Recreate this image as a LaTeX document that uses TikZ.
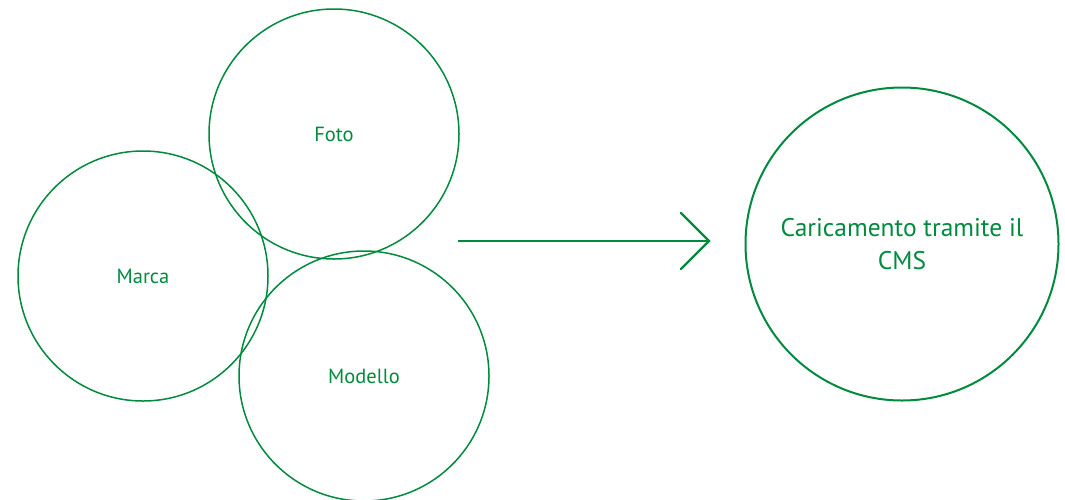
\documentclass[tikz,border=0pt]{standalone}
\usepackage{fontspec}
\setmainfont{PT Sans}
\begin{document}
\begin{tikzpicture}[x=1pt,y=-1pt]
\definecolor{vgreen}{RGB}{0,138,62}
\tikzset{
  bubble/.style={circle, draw=vgreen, line width=1.5pt, minimum size=250pt, inner sep=0pt, text=vgreen, font=\fontsize{20.5}{24}\selectfont},
  bigbubble/.style={circle, draw=vgreen, line width=2pt, minimum size=313pt, inner sep=0pt, text=vgreen, align=center, font=\fontsize{25.5}{33}\selectfont},
  flow/.style={draw=vgreen, line width=2.2pt}
}
\useasboundingbox (0,0) rectangle (1065,499);
\node[bubble] (foto) at (334,134) {Foto};
\node[bubble] (marca) at (143,276) {Marca};
\node[bubble] (modello) at (364,376) {Modello};
\node[bigbubble] (cms) at (902,244) {Caricamento tramite il\\CMS};
\coordinate (s) at (458,241);
\coordinate (e) at (709,241);
\coordinate (a1) at (681,213);
\coordinate (a2) at (681,269);
\draw[flow] (s) -- (e);
\draw[flow, line cap=round, line join=miter] (a1) -- (e) -- (a2);
\end{tikzpicture}
\end{document}
